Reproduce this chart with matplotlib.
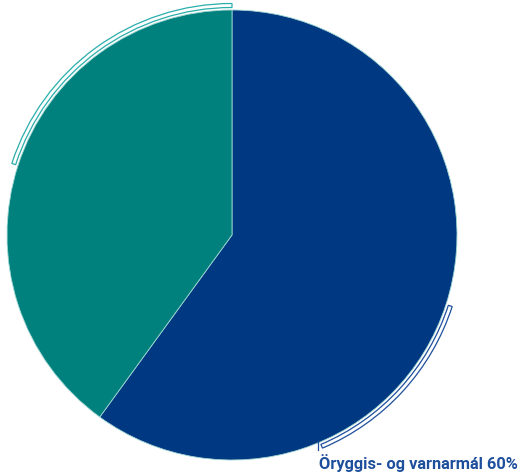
import matplotlib
matplotlib.use("Agg")
import matplotlib.pyplot as plt
from matplotlib.patches import Wedge

categories = ["Öryggis- og varnarmál", "Annað"]
values = [60, 40]
colors = ["#003882", "#00817D"]
bracket_colors = ["#1E4F9C", "#2AAEAB"]

W, H = 523, 476
fig = plt.figure(figsize=(W / 100, H / 100), dpi=100)
ax = fig.add_axes([0, 0, 1, 1])

cx, cy, r = 232, H - 235, 225
wedges, _ = ax.pie(values, colors=colors, startangle=90, counterclock=False,
                   center=(cx, cy), radius=r,
                   wedgeprops=dict(edgecolor="#9fd6d3", linewidth=0.6))

# bracket outlines around slices
ax.add_patch(Wedge((cx, cy), 231.5, -67, -18, width=4, facecolor="none",
                   edgecolor=bracket_colors[0], linewidth=0.9))
ax.add_patch(Wedge((cx, cy), 231.5, 90, 162, width=4, facecolor="none",
                   edgecolor=bracket_colors[1], linewidth=0.9))
ax.plot([318, 318], [H - 441, H - 450], color=bracket_colors[0], lw=0.9)

ax.text(319, H - 463, f"{categories[0]} {values[0]}%", color="#1E4F9C",
        fontsize=11.8, fontfamily="Roboto", fontweight="bold",
        ha="left", va="center")

ax.set_xlim(0, W)
ax.set_ylim(0, H)
ax.set_aspect("auto")
ax.axis("off")
fig.savefig("out.png", dpi=100)
